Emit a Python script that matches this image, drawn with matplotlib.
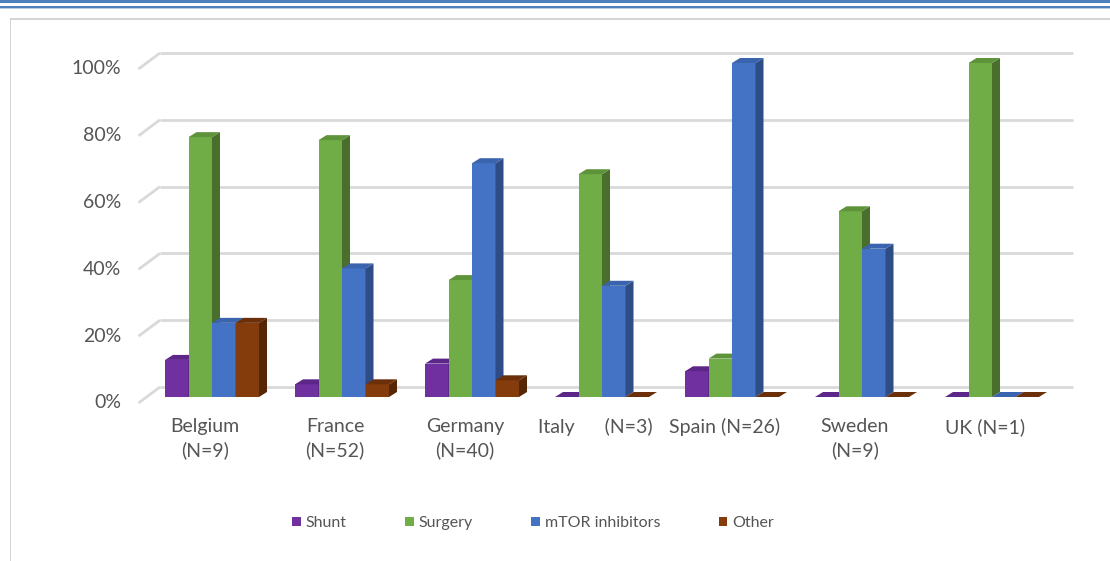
import matplotlib
matplotlib.use("Agg")
import matplotlib.pyplot as plt
from matplotlib.patches import Polygon, Rectangle, Patch
import numpy as np

# ---- data -------------------------------------------------------------
categories = ["Belgium\n(N=9)", "France\n(N=52)", "Germany\n(N=40)",
              "Italy      (N=3)", "Spain (N=26)", "Sweden\n(N=9)", "UK (N=1)"]
series = ["Shunt", "Surgery", "mTOR inhibitors", "Other"]
shunt   = [11.1, 3.8, 10.0, 0.0, 7.7, 0.0, 0.0]
surgery = [77.8, 76.9, 35.0, 66.7, 11.5, 55.6, 100.0]
mtor    = [22.2, 38.5, 70.0, 33.3, 100.0, 44.4, 0.0]
other   = [22.2, 3.8, 5.0, 0.0, 0.0, 0.0, 0.0]
yticks = [0, 20, 40, 60, 80, 100]
ytick_labels = ["0%", "20%", "40%", "60%", "80%", "100%"]

values = [shunt, surgery, mtor, other]
front_colors = ["#7030a0", "#70ad47", "#4472c4", "#843c0c"]
side_colors = ["#4c2070", "#4a6f2d", "#2e4d86", "#562707"]
top_colors = ["#5d2789", "#5e933a", "#3a64ad", "#6b300a"]
text_color = "#555555"
grid_color = "#d9d9d9"
font = "Lato"

W, H, DPI = 1110, 561, 100
fig = plt.figure(figsize=(W / DPI, H / DPI), dpi=DPI)
ax = fig.add_axes([0, 0, 1, 1])

# pixel geometry of the pseudo-3D plot area
x0_px, step_px = 212.0, 130.0          # first group centre, group spacing
y0_px, unit_px = 397.0, 3.34           # baseline of bar fronts, px per percent
ax.set_xlim(-x0_px / step_px, (W - x0_px) / step_px)
ax.set_ylim((y0_px - H) / unit_px, y0_px / unit_px)
ax.axis("off")

def dx(px):
    return px / step_px

def dy(px):
    return px / unit_px

# back wall gridlines and side-wall slants
wall_dx, wall_dy = dx(13.5), dy(10)     # back wall relative to bar fronts
front_dx, front_dy = dx(-8.5), dy(-6)   # front edge of floor
x_left = -x0_px / step_px + dx(160)
x_right = -x0_px / step_px + dx(1073)
for v, lab in zip(yticks, ytick_labels):
    ax.plot([x_left, x_right], [v + wall_dy, v + wall_dy],
            color=grid_color, lw=2.0, solid_capstyle="butt", zorder=1)
    ax.plot([x_left + front_dx - wall_dx + dx(0.5), x_left],
            [v + front_dy, v + wall_dy],
            color=grid_color, lw=2.0, solid_capstyle="butt", zorder=1)
    ax.text(-x0_px / step_px + dx(121), v + front_dy, lab,
            ha="right", va="center", fontsize=14, color=text_color,
            family=font)

# bars with side and top faces
bw = dx(23.5)
offsets = [dx(-35.25), dx(-11.75), dx(11.75), dx(35.25)]
ddx, ddy = dx(8), dy(5)
z = 2
for i in range(len(categories)):
    for s in range(len(series)):
        v = values[s][i]
        xl = i + offsets[s] - bw / 2
        xr = xl + bw
        if v > 0:
            ax.add_patch(Rectangle((xl, 0), bw, v, facecolor=front_colors[s],
                                   edgecolor="none", zorder=z))
            ax.add_patch(Polygon([(xr, 0), (xr + ddx, ddy), (xr + ddx, v + ddy), (xr, v)],
                                 closed=True, facecolor=side_colors[s],
                                 edgecolor="none", zorder=z))
        ax.add_patch(Polygon([(xl, v), (xr, v), (xr + ddx, v + ddy), (xl + ddx, v + ddy)],
                             closed=True, facecolor=top_colors[s],
                             edgecolor="none", zorder=z))
        z += 1

# category labels
for i, lab in enumerate(categories):
    ax.text(i - dx(7), dy(-21), lab, ha="center", va="top", fontsize=14,
            color=text_color, family=font, linespacing=1.4, zorder=50)

# legend
handles = [Patch(facecolor=c, edgecolor="none") for c in front_colors]
leg = fig.legend(handles, series, loc="center",
                 bbox_to_anchor=(533 / W, 1 - 523 / H), ncol=4, frameon=False,
                 handlelength=0.55, handleheight=0.55, handletextpad=0.3,
                 columnspacing=3.65, prop={"family": font, "size": 11.5})
for t in leg.get_texts():
    t.set_color(text_color)

# page decoration: blue rules at the top and the chart frame
def fig_rect(x, y, w, h, **kw):
    fig.patches.append(Rectangle((x / W, 1 - (y + h) / H), w / W, h / H,
                                 transform=fig.transFigure, **kw))

fig_rect(0, 0, W, 3.3, facecolor="#4f81bd", edgecolor="none")
fig_rect(0, 6, W, 2.2, facecolor="#4f81bd", edgecolor="none")
fig_rect(0, 8.2, W, 1.2, facecolor="#b8cce4", edgecolor="none")
fig_rect(10, 18.5, W - 10, 1.5, facecolor="#d4d4d4", edgecolor="none")
fig_rect(9.5, 18.5, 1.5, H - 18.5, facecolor="#d4d4d4", edgecolor="none")

fig.savefig("out.png", dpi=DPI)
